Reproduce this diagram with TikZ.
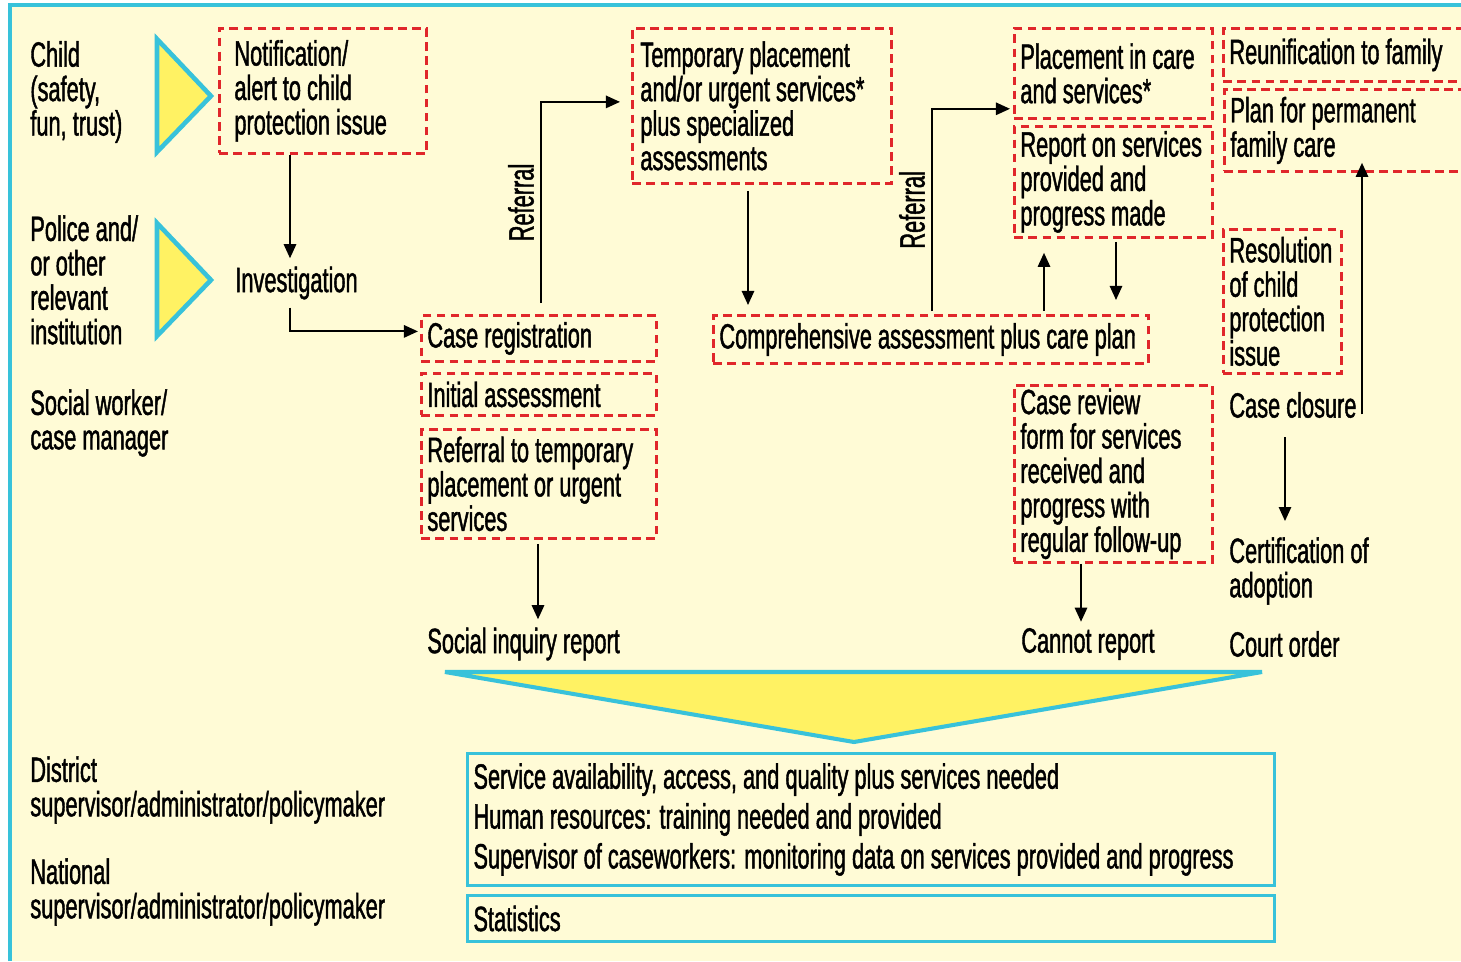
\documentclass[tikz,border=0pt]{standalone}
\usepackage{fontspec}
\setmainfont[FakeStretch=0.62, FakeBold=1.2]{Liberation Sans}
\usetikzlibrary{arrows.meta,calc}

\definecolor{paper}{RGB}{255,251,214}
\definecolor{sky}{RGB}{56,194,218}
\definecolor{sun}{RGB}{255,242,99}
\definecolor{dashred}{RGB}{224,38,43}

\begin{document}
\begin{tikzpicture}[x=0.02cm, y=-0.02cm,
    font=\fontsize{20}{19.6}\selectfont,
    txt/.style={anchor=west, inner sep=0pt, align=left},
    box/.style={draw=dashred, line width=1.6pt, dash pattern=on 5pt off 3pt,
      anchor=north west, align=flush left, inner xsep=0.12cm, inner ysep=0pt},
    infobox/.style={draw=sky, line width=1.7pt, anchor=north west, align=flush left,
      inner xsep=0.12cm, inner ysep=0pt},
    arr/.style={line width=1.1pt, -{Triangle[length=8pt,width=7pt]}},
    tri/.style={draw=sky, fill=sun, line width=2.6pt}]

  \useasboundingbox (0,0) rectangle (1461,961);
  \fill[paper] (10,5) rectangle (1461,961);
  \draw[sky, line width=1.8pt] (10,961) -- (10,5) -- (1461,5);

  % triangles
  \draw[tri] (157,39) -- (211,96) -- (157,152) -- cycle;
  \draw[tri] (157,223) -- (211,280) -- (157,336) -- cycle;
  \draw[tri, line width=2.3pt] (445,672) -- (1262,672) -- (854,742) -- cycle;

  % who
  \node[txt] (child) at (30,92) {Child\\(safety,\\fun, trust)};
  \node[txt] (police) at (30,280) {Police and/\\or other\\relevant\\institution};
  \node[txt] (social) at (30,423) {Social worker/\\case manager};
  \node[txt] (district) at (30,790) {District\\supervisor/administrator/policymaker};
  \node[txt] (national) at (30,892) {National\\supervisor/administrator/policymaker};

  % steps
  \node[box, text width=3.54cm, minimum height=2.5cm, inner xsep=0.3cm] (notif) at (218,27) {Notification/\\alert to child\\protection issue};
  \node[box, text width=4.86cm, minimum height=3.1cm, inner xsep=0.16cm] (temp) at (631,27) {Temporary placement\\and/or urgent services*\\plus specialized\\assessments};
  \node[box, text width=3.72cm, minimum height=1.8cm] (place) at (1013,27) {Placement in care\\and services*};
  \node[box, text width=3.72cm, minimum height=2.22cm] (report) at (1013,125) {Report on services\\provided and\\progress made};
  \node[box, text width=5.16cm, minimum height=1.06cm] (reunif) at (1222,27) {Reunification to family};
  \node[box, text width=5.16cm, minimum height=1.64cm] (plan) at (1223,88) {Plan for permanent\\family care};
  \node[box, text width=2.12cm, minimum height=2.88cm] (resol) at (1222,228) {Resolution\\of child\\protection\\issue};
  \node[box, text width=4.46cm, minimum height=0.92cm] (casereg) at (420,314) {Case registration};
  \node[box, text width=4.46cm, minimum height=0.84cm] (initial) at (420,372) {Initial assessment};
  \node[box, text width=4.46cm, minimum height=2.18cm] (reftemp) at (420,428) {Referral to temporary\\placement or urgent\\services};
  \node[box, text width=8.46cm, minimum height=0.96cm] (compr) at (712,314) {Comprehensive assessment plus care plan};
  \node[box, text width=3.72cm, minimum height=3.54cm] (review) at (1013,384) {Case review\\form for services\\received and\\progress with\\regular follow-up};

  \node[txt] (inv) at (235,283) {Investigation};
  \node[txt] (closure) at (1229,405) {Case closure};
  \node[txt] (certif) at (1229,571) {Certification of\\adoption};
  \node[txt] (sir) at (427,644) {Social inquiry report};
  \node[txt] (cannot) at (1021,644) {Cannot report};
  \node[txt] (court) at (1229,644) {Court order};

  % outputs
  \node[infobox, text width=15.9cm, minimum height=2.64cm, font=\fontsize{20}{22.7}\selectfont] (info) at (466,752) {Service availability, access, and quality plus services needed\\Human resources: training needed and provided\\Supervisor of caseworkers: monitoring data on services provided and progress};
  \node[infobox, text width=15.9cm, minimum height=0.92cm] (stats) at (466,894) {Statistics};

  % arrows
  \draw[arr] ($(notif.south west)+(72,0)$) -- ($(inv.north west)+(55,-8)$);
  \draw[arr] ($(inv.south west)+(55,8)$) |- ($(casereg.west)+(-2,-7)$);
  \draw[arr] ($(casereg.north west)+(121,-11)$) |- ($(temp.west)+(-11,-4)$)
    node[pos=.25, sloped, above, inner sep=3.5pt] {Referral};
  \draw[arr] ($(temp.south west)+(117,6)$) -- ($(compr.north west)+(36,-9)$);
  \draw[arr] ($(compr.north west)+(220,-3)$) |- ($(place.south west)+(-3,-11)$)
    node[pos=.25, sloped, above, inner sep=3.5pt] {Referral};
  \draw[arr] ($(compr.north west)+(332,-3)$) -- ($(report.south west)+(31,14)$);
  \draw[arr] ($(report.south west)+(103,3)$) -- ($(compr.north west)+(404,-14)$);
  \draw[arr] ($(reftemp.south west)+(118,4)$) -- ($(sir.north west)+(111,-8)$);
  \draw[arr] ($(review.south west)+(68,0)$) -- ($(cannot.north west)+(60,-6)$);
  \draw[arr] ($(closure.south west)+(56,19)$) -- ($(certif.north west)+(56,-16)$);
  \draw[arr] ($(closure.south west)+(133,-4)$) -- ($(plan.south west)+(139,-10)$);
\end{tikzpicture}
\end{document}
